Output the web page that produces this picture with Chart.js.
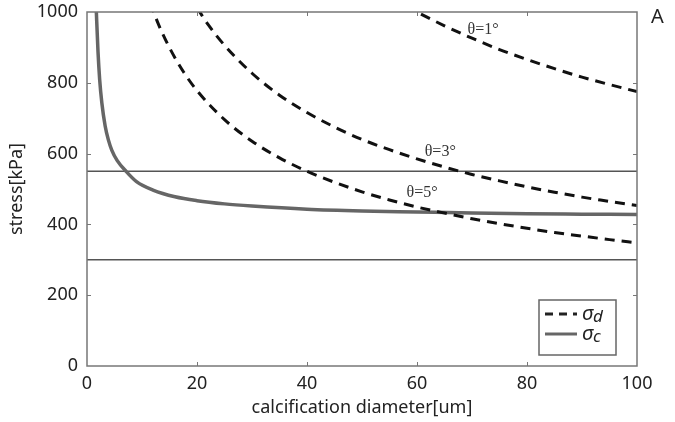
<!DOCTYPE html>
<html>
<head>
<meta charset="utf-8">
<script src="https://cdn.jsdelivr.net/npm/chart.js@4"></script>
<style>
  html, body { margin: 0; padding: 0; background: #fff; }
  #wrap { width: 675px; height: 422px; position: relative; }
</style>
</head>
<body>
<div id="wrap"><canvas id="c" width="675" height="422"></canvas></div>
<script>
// ---- data ----
const diameterTheta1 = [58, 60, 65, 70, 75, 80, 85, 90, 95, 100];
const stressTheta1   = [1017, 1000, 961, 926, 894, 866, 840, 816, 795, 775];

const diameterTheta3 = [20, 22, 25, 30, 35, 40, 45, 50, 55, 60, 65, 70, 75, 80, 85, 90, 95, 100];
const stressTheta3   = [1012, 965, 906, 827, 765, 716, 675, 640, 611, 585, 562, 541, 523, 506, 491, 477, 465, 453];

const diameterTheta5 = [11.5, 12, 13, 15, 17.5, 20, 25, 30, 35, 40, 45, 50, 55, 60, 65, 70, 75, 80, 85, 90, 95, 100];
const stressTheta5   = [1026, 1005, 965, 899, 832, 778, 696, 635, 588, 550, 519, 492, 469, 449, 432, 416, 402, 389, 377, 367, 357, 348];

const diameterSigmaC = [1.6, 1.7, 2.0, 2.3, 2.7, 3.3, 3.9, 4.5, 5.5, 7.1, 9, 12, 16, 20, 25, 30, 40, 50, 60, 70, 80, 90, 100];
const stressSigmaC   = [1040, 1000, 888, 810, 743, 678, 638, 610, 580, 550, 521, 497, 478, 467, 458, 452, 443, 438, 435, 432, 430, 429, 428];

const thresholdLevels = [550, 300];
const thetaLabels = ['θ=1°', 'θ=3°', 'θ=5°'];
const legendLabels = [['σ', 'd'], ['σ', 'c']];
const xTicks = [0, 20, 40, 60, 80, 100];
const yTicks = [0, 200, 400, 600, 800, 1000];

// ---- annotation anchors (data coordinates) ----
const thetaAnchors = [[69.2, 951], [61.4, 606], [58.1, 490]];

const FONT = '"Noto Sans", "Open Sans", sans-serif';
const pts = (xs, ys) => xs.map((x, i) => ({ x: x, y: ys[i] }));
const dashedStyle = { borderColor: '#111', borderWidth: 3, borderDash: [10, 7], pointRadius: 0, fill: false, cubicInterpolationMode: 'monotone' };

const datasets = [
  Object.assign({ label: 'σd ' + thetaLabels[0], data: pts(diameterTheta1, stressTheta1) }, dashedStyle),
  Object.assign({ label: 'σd ' + thetaLabels[1], data: pts(diameterTheta3, stressTheta3) }, dashedStyle),
  Object.assign({ label: 'σd ' + thetaLabels[2], data: pts(diameterTheta5, stressTheta5) }, dashedStyle),
  { label: 'σc', data: pts(diameterSigmaC, stressSigmaC), borderColor: '#666', borderWidth: 3.5, pointRadius: 0, fill: false, cubicInterpolationMode: 'monotone' }
];
thresholdLevels.forEach((v) => {
  datasets.push({ label: 'limit ' + v, data: [{ x: 0, y: v }, { x: 100, y: v }], borderColor: '#555', borderWidth: 1.5, pointRadius: 0, fill: false, order: 5 });
});

const framePlugin = {
  id: 'frame',
  afterDatasetsDraw(chart) {
    const { ctx, chartArea: a, scales } = chart;
    ctx.save();
    ctx.strokeStyle = '#777';
    ctx.lineWidth = 1.5;
    ctx.strokeRect(a.left, a.top, a.right - a.left, a.bottom - a.top);
    ctx.lineWidth = 1;
    ctx.beginPath();
    xTicks.slice(1, -1).forEach(v => {
      const px = Math.round(scales.x.getPixelForValue(v)) + 0.5;
      ctx.moveTo(px, a.bottom); ctx.lineTo(px, a.bottom - 4);
      ctx.moveTo(px, a.top); ctx.lineTo(px, a.top + 4);
    });
    yTicks.slice(1, -1).forEach(v => {
      const py = Math.round(scales.y.getPixelForValue(v)) + 0.5;
      ctx.moveTo(a.left, py); ctx.lineTo(a.left + 4, py);
      ctx.moveTo(a.right, py); ctx.lineTo(a.right - 4, py);
    });
    ctx.stroke();

    // theta annotations
    ctx.fillStyle = '#333';
    ctx.font = '16px "Liberation Serif", "DejaVu Serif", serif';
    ctx.textBaseline = 'middle';
    ctx.textAlign = 'left';
    thetaLabels.forEach((t, i) => {
      const px = scales.x.getPixelForValue(thetaAnchors[i][0]);
      const py = scales.y.getPixelForValue(thetaAnchors[i][1]);
      ctx.fillText(t, px, py);
    });

    // panel letter
    ctx.fillStyle = '#222';
    ctx.font = '20px ' + FONT;
    ctx.fillText('A', a.right + 14, a.top + 5);

    // legend box
    const w = 77, h = 55;
    const x0 = a.right - 21 - w, y0 = a.bottom - 11 - h;
    ctx.fillStyle = '#fff';
    ctx.fillRect(x0, y0, w, h);
    ctx.strokeStyle = '#666';
    ctx.lineWidth = 1.5;
    ctx.strokeRect(x0, y0, w, h);
    const rows = [
      { y: y0 + 14, dash: [8, 6], color: '#222', width: 3 },
      { y: y0 + 34, dash: [], color: '#666', width: 3 }
    ];
    rows.forEach((r, i) => {
      ctx.beginPath();
      ctx.setLineDash(r.dash);
      ctx.strokeStyle = r.color;
      ctx.lineWidth = r.width;
      ctx.moveTo(x0 + 6, r.y); ctx.lineTo(x0 + 38, r.y);
      ctx.stroke();
      ctx.setLineDash([]);
      ctx.fillStyle = '#222';
      ctx.textBaseline = 'alphabetic';
      ctx.font = 'italic 20px ' + FONT;
      const base = r.y + 6;
      ctx.fillText(legendLabels[i][0], x0 + 43, base);
      const sw = ctx.measureText(legendLabels[i][0]).width;
      ctx.font = 'italic 17px ' + FONT;
      ctx.fillText(legendLabels[i][1], x0 + 43 + sw, base + 2);
    });
    ctx.restore();
  }
};

new Chart(document.getElementById('c'), {
  type: 'line',
  data: { datasets: datasets },
  plugins: [framePlugin],
  options: {
    responsive: false,
    animation: false,
    layout: { padding: { top: 12, right: 38, left: 0, bottom: 0 } },
    plugins: { legend: { display: false }, tooltip: { enabled: false } },
    scales: {
      x: {
        type: 'linear', min: 0, max: 100,
        afterBuildTicks(s) { s.ticks = xTicks.map(v => ({ value: v })); },
        afterFit(s) { s.height = 56; s.paddingLeft = 0; s.paddingRight = 0; },
        grid: { display: false, drawTicks: false },
        border: { display: false },
        ticks: { color: '#222', font: { family: FONT, size: 18 }, padding: 7, maxRotation: 0, callback: v => String(v) },
        title: { display: true, text: 'calcification diameter[um]', color: '#222', font: { family: FONT, size: 18 }, padding: { top: 0, bottom: 3 } }
      },
      y: {
        type: 'linear', min: 0, max: 1000,
        afterBuildTicks(s) { s.ticks = yTicks.map(v => ({ value: v })); },
        afterFit(s) { s.width = 87; s.paddingTop = 0; s.paddingBottom = 0; },
        grid: { display: false, drawTicks: false },
        border: { display: false },
        ticks: { color: '#222', font: { family: FONT, size: 18 }, padding: 9, callback: v => String(v) },
        title: { display: true, text: 'stress[kPa]', color: '#222', font: { family: FONT, size: 18 }, padding: { top: 6, bottom: 0 } }
      }
    }
  }
});
</script>
</body>
</html>
